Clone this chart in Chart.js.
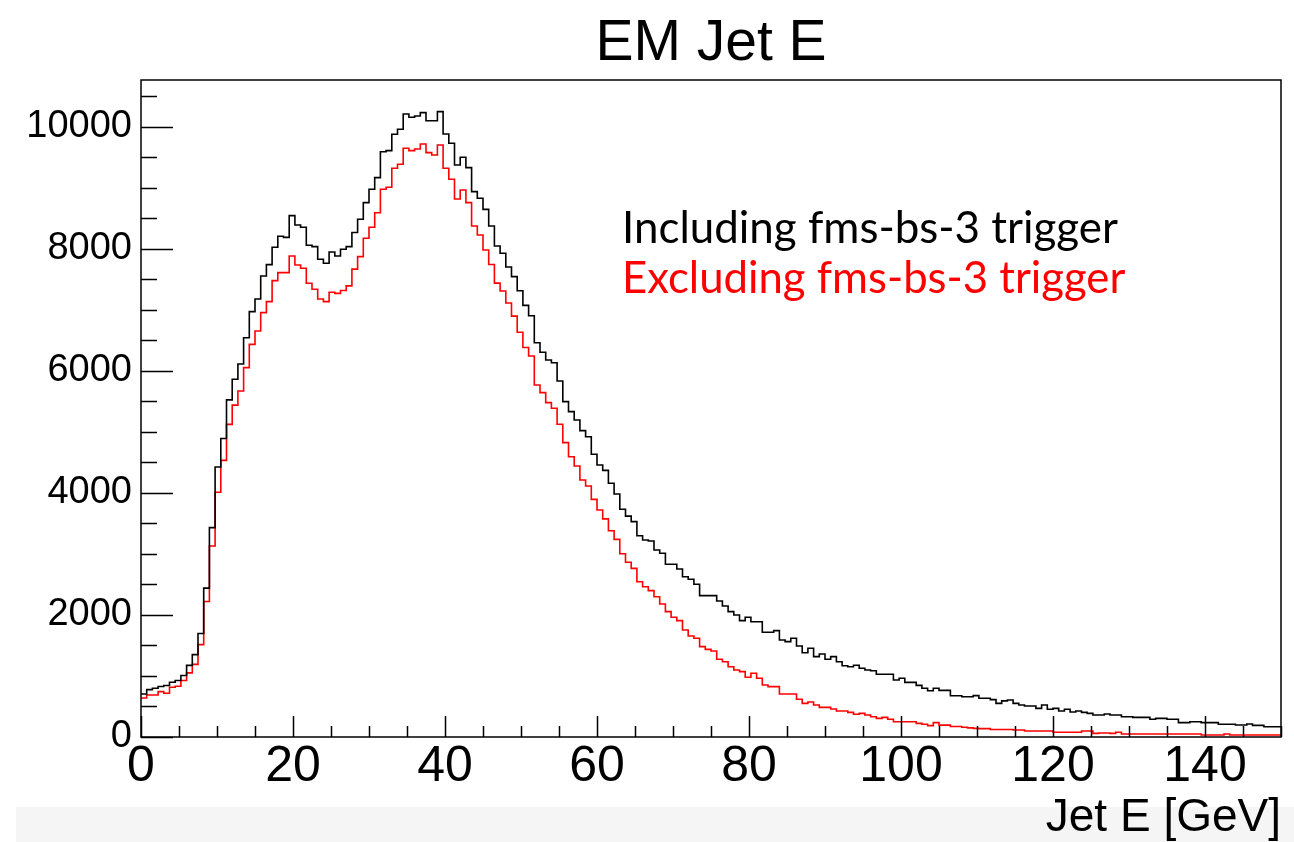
<!DOCTYPE html>
<html>
<head>
<meta charset="utf-8">
<title>EM Jet E</title>
<script src="https://cdn.jsdelivr.net/npm/chart.js@4.4.0/dist/chart.umd.min.js"></script>
<style>
  html, body { margin: 0; padding: 0; background: #ffffff; }
  #jetE { display: block; }
</style>
</head>
<body>
<canvas id="jetE" width="1294" height="842"></canvas>
<script>
// histogram: 200 bins of 0.75 GeV between 0 and 150 GeV
const binWidth = 0.75;

// Including fms-bs-3 trigger (black)
const including = [
  705, 777, 799, 827, 843, 898, 926, 1008, 1174, 1350,
  1697, 2441, 3433, 4425, 4893, 5527, 5864, 6115, 6546, 6973,
  7180, 7557, 7743, 8028, 8208, 8191, 8546, 8393, 8356, 8060,
  8038, 7831, 7765, 7951, 7885, 7995, 8038, 8270, 8487, 8760,
  8979, 9169, 9595, 9612, 9880, 9962, 10213, 10159, 10180, 10235,
  10103, 10103, 10251, 9885, 9732, 9377, 9503, 9333, 8940, 8831,
  8650, 8377, 8049, 7930, 7705, 7546, 7316, 7075, 6905, 6464,
  6306, 6180, 6136, 5836, 5497, 5333, 5197, 5022, 4923, 4634,
  4459, 4370, 4159, 3984, 3733, 3620, 3530, 3300, 3230, 3213,
  3066, 3011, 2831, 2831, 2754, 2628, 2585, 2503, 2317, 2317,
  2317, 2230, 2148, 2055, 2000, 1907, 1962, 1890, 1890, 1716,
  1716, 1743, 1590, 1563, 1618, 1492, 1382, 1454, 1317, 1361,
  1274, 1317, 1234, 1169, 1152, 1175, 1126, 1098, 1087, 1028,
  1028, 1028, 934, 962, 896, 896, 847, 798, 759, 798,
  765, 765, 675, 675, 661, 661, 678, 634, 634, 612,
  552, 592, 607, 552, 525, 508, 508, 470, 525, 454,
  470, 426, 454, 410, 426, 404, 388, 361, 361, 377,
  361, 361, 333, 333, 322, 322, 322, 290, 306, 306,
  290, 290, 235, 235, 251, 251, 235, 235, 235, 208,
  208, 208, 197, 197, 213, 191, 191, 169, 169, 169
];

// Excluding fms-bs-3 trigger (red)
const excluding = [
  639, 689, 689, 744, 716, 815, 832, 926, 1052, 1190,
  1515, 2220, 3130, 4011, 4535, 5124, 5440, 5672, 6055, 6437,
  6656, 6956, 7137, 7481, 7612, 7612, 7885, 7738, 7683, 7437,
  7339, 7180, 7137, 7290, 7273, 7320, 7395, 7670, 7874, 8175,
  8356, 8595, 8979, 9011, 9323, 9388, 9650, 9612, 9639, 9721,
  9579, 9541, 9705, 9323, 9142, 8820, 8967, 8760, 8377, 8230,
  7984, 7745, 7440, 7311, 7115, 6900, 6635, 6385, 6246, 5770,
  5645, 5481, 5388, 5126, 4825, 4595, 4443, 4213, 4115, 3896,
  3721, 3575, 3382, 3240, 3005, 2865, 2765, 2546, 2464, 2399,
  2300, 2180, 2055, 1962, 1907, 1754, 1656, 1618, 1481, 1437,
  1410, 1274, 1234, 1152, 1098, 1071, 979, 1044, 962, 852,
  825, 825, 705, 705, 705, 618, 552, 574, 525, 486,
  486, 459, 426, 426, 404, 372, 388, 361, 333, 306,
  322, 290, 251, 251, 251, 251, 224, 208, 186, 235,
  194, 194, 172, 172, 160, 150, 142, 138, 138, 124,
  122, 122, 122, 115, 115, 98, 98, 98, 98, 98,
  77, 77, 77, 77, 77, 98, 98, 60, 66, 66,
  60, 77, 49, 49, 49, 49, 49, 49, 49, 49,
  49, 49, 49, 49, 49, 49, 33, 33, 33, 33,
  49, 33, 33, 33, 33, 33, 33, 33, 33, 33
];

const legendLabels = ["Including fms-bs-3 trigger", "Excluding fms-bs-3 trigger"];
const legendColors = ["#000000", "#ff0000"];
const chartTitle = "EM Jet E";
const xAxisTitle = "Jet E [GeV]";

const xTickValues = [0, 20, 40, 60, 80, 100, 120, 140];
const yTickValues = [0, 2000, 4000, 6000, 8000, 10000];
const xMin = 0, xMax = 150, xMinorStep = 5;
const yMin = 0, yMax = 10770, yMinorStep = 500;

const rootFont = "'Liberation Sans', Arial, Helvetica, sans-serif";

// bin i covers [i*binWidth, (i+1)*binWidth]; last point closes the final bin
const toSteps = values => values
  .map((v, i) => ({ x: i * binWidth, y: v }))
  .concat([{ x: values.length * binWidth, y: values[values.length - 1] }]);

// grey strip under the axis title
const bottomStrip = {
  id: "bottomStrip",
  beforeDraw(chart) {
    const { ctx, width, height } = chart;
    ctx.save();
    ctx.fillStyle = "#f5f5f5";
    ctx.fillRect(16, 807, width - 16, height - 807);
    ctx.restore();
  }
};

// ROOT style frame with inward ticks
const frameTicks = {
  id: "frameTicks",
  afterDatasetsDraw(chart) {
    const { ctx, chartArea: a, scales: { x, y } } = chart;
    ctx.save();
    ctx.strokeStyle = "#000";
    ctx.lineWidth = 1.5;
    ctx.strokeRect(a.left, a.top, a.right - a.left, a.bottom - a.top);
    ctx.beginPath();
    for (let v = xMin; v <= xMax; v += xMinorStep) {
      const px = Math.round(x.getPixelForValue(v)) + 0.5;
      const len = xTickValues.includes(v) ? 21 : 11;
      ctx.moveTo(px, a.bottom);
      ctx.lineTo(px, a.bottom - len);
    }
    for (let v = yMin; v <= yMax; v += yMinorStep) {
      const py = Math.round(y.getPixelForValue(v)) + 0.5;
      const len = yTickValues.includes(v) ? 32 : 16;
      ctx.moveTo(a.left, py);
      ctx.lineTo(a.left + len, py);
    }
    ctx.stroke();
    ctx.restore();
  }
};

// title above the frame and the two text lines inside it
const textLayer = {
  id: "textLayer",
  afterDraw(chart) {
    const { ctx, chartArea: a } = chart;
    ctx.save();
    ctx.textBaseline = "alphabetic";
    ctx.textAlign = "center";
    ctx.fillStyle = "#000";
    ctx.font = "57px " + rootFont;
    ctx.fillText(chartTitle, (a.left + a.right) / 2, 60);

    ctx.textAlign = "left";
    const targetWidth = [496, 503];
    legendLabels.forEach((label, i) => {
      ctx.font = "40px Lato";
      const w = ctx.measureText(label).width;
      const size = 40 * targetWidth[i] / w;
      ctx.font = size.toFixed(1) + "px Lato";
      ctx.fillStyle = legendColors[i];
      ctx.fillText(label, 622, 243 + i * 50);
    });
    ctx.restore();
  }
};

new Chart(document.getElementById("jetE"), {
  type: "line",
  data: {
    datasets: [
      {
        label: legendLabels[0],
        data: toSteps(including),
        borderColor: legendColors[0],
        borderWidth: 1.6,
        stepped: "before",
        pointRadius: 0,
        fill: false
      },
      {
        label: legendLabels[1],
        data: toSteps(excluding),
        borderColor: legendColors[1],
        borderWidth: 1.6,
        stepped: "before",
        pointRadius: 0,
        fill: false
      }
    ]
  },
  options: {
    responsive: false,
    animation: false,
    layout: { padding: { left: 0, right: 13, top: 80, bottom: 0 } },
    plugins: {
      legend: { display: false },
      tooltip: { enabled: false },
      title: { display: false }
    },
    scales: {
      x: {
        type: "linear",
        min: xMin,
        max: xMax,
        grid: { display: false, drawTicks: false },
        border: { display: false },
        afterBuildTicks(scale) { scale.ticks = xTickValues.map(v => ({ value: v })); },
        ticks: {
          maxRotation: 0,
          autoSkip: false,
          padding: 0,
          color: "#000",
          font: { family: rootFont, size: 50 },
          callback: v => String(v)
        },
        title: {
          display: true,
          text: xAxisTitle,
          align: "end",
          color: "#000",
          font: { family: rootFont, size: 46, lineHeight: 1 },
          padding: { top: 0, bottom: 1 }
        },
        afterFit(scale) { scale.height = 105; }
      },
      y: {
        min: yMin,
        max: yMax,
        grid: { display: false, drawTicks: false },
        border: { display: false },
        afterBuildTicks(scale) { scale.ticks = yTickValues.map(v => ({ value: v })); },
        ticks: {
          autoSkip: false,
          padding: 9,
          color: "#000",
          font: { family: rootFont, size: 38 },
          callback: v => String(v)
        },
        afterFit(scale) { scale.width = 141; }
      }
    }
  },
  plugins: [bottomStrip, frameTicks, textLayer]
});
</script>
</body>
</html>
